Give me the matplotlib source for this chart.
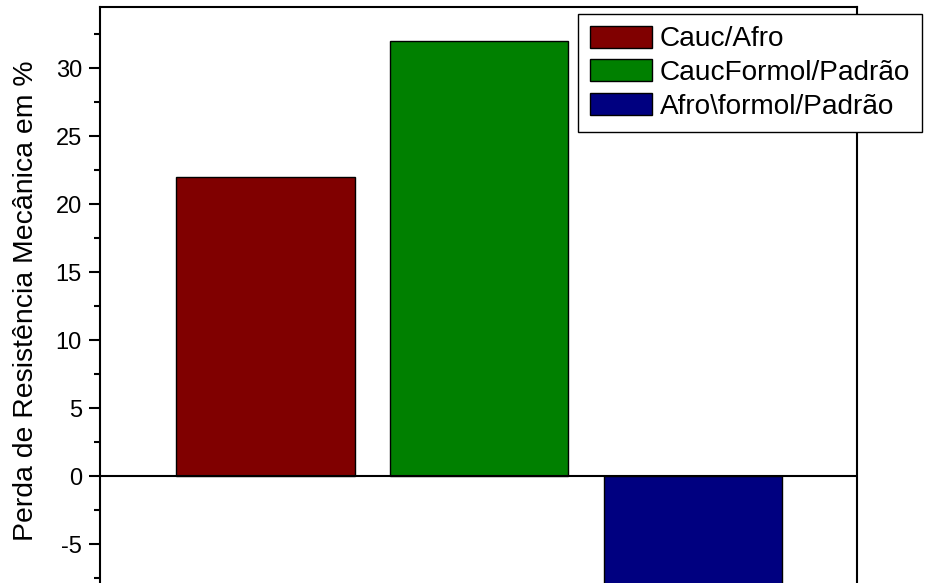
import matplotlib
matplotlib.use('Agg')
import matplotlib.pyplot as plt
from matplotlib.ticker import MultipleLocator

plt.rcParams['font.family'] = ['Liberation Sans', 'DejaVu Sans']
plt.rcParams['axes.unicode_minus'] = False

labels = ['Cauc/Afro', 'CaucFormol/Padrão', 'Afro\\formol/Padrão']
values = [22, 32, -10]
colors = ['#800000', '#008000', '#000080']
positions = [1, 2, 3]

W, H = 929, 583
fig = plt.figure(figsize=(W / 100, H / 100), dpi=100)

# axes frame runs past the bottom of the figure
y_lo, y_hi = -8.75, 34.49
top_px, zero_px, px_per_unit = 7, 476, 13.6
bottom_px = zero_px - y_lo * px_per_unit
ax = fig.add_axes([100 / W, (H - bottom_px) / H, 757 / W, (bottom_px - top_px) / H])

bars = ax.bar(positions, values, width=0.834, color=colors,
              edgecolor='black', linewidth=1.0)
for b, lab in zip(bars, labels):
    b.set_label(lab)

ax.axhline(0, color='black', linewidth=1.5, zorder=3)

ax.set_xlim(0.225, 3.77)
ax.set_ylim(y_lo, y_hi)
ax.set_xticks([])
ax.yaxis.set_major_locator(MultipleLocator(5))
ax.yaxis.set_minor_locator(MultipleLocator(2.5))
ax.tick_params(axis='y', which='major', direction='out', length=8, width=1.5,
               pad=5, labelsize=17)
ax.tick_params(axis='y', which='minor', direction='out', length=4, width=1.5)
for sp in ax.spines.values():
    sp.set_linewidth(1.5)

ax.set_ylabel('Perda de Resistência Mecânica em %', fontsize=20.4, labelpad=12)

leg = ax.legend(loc='upper left', bbox_to_anchor=(578 / W, 1 - 14 / H),
                bbox_transform=fig.transFigure, fontsize=20.2, frameon=True,
                fancybox=False, shadow=False, framealpha=1, edgecolor='black',
                handlelength=2.2, handleheight=0.82, handletextpad=0.3,
                labelspacing=0.25, borderpad=0.42, borderaxespad=0)
leg.get_frame().set_linewidth(1.0)
for h in leg.legend_handles:
    h.set_edgecolor('black')
    h.set_linewidth(1.0)

fig.savefig('out.png', dpi=100)
